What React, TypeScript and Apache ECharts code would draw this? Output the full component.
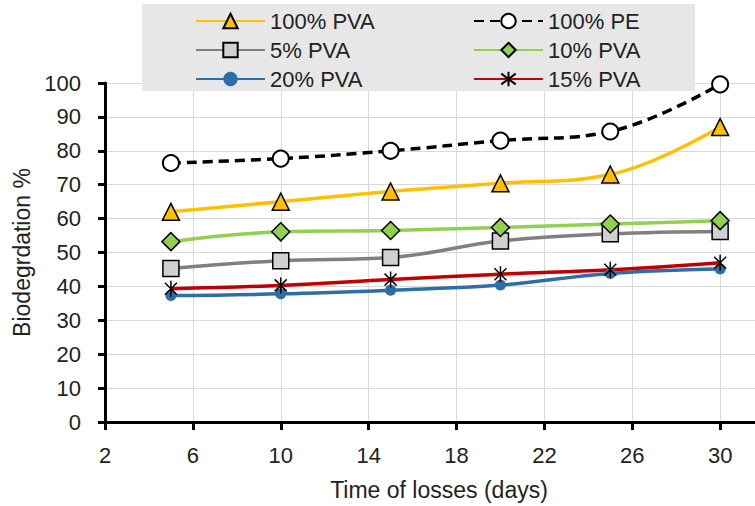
import React, { useEffect, useRef } from "react";
import * as echarts from "echarts";

const days = [5, 10, 15, 20, 25, 30];
const pva100 = [62, 65, 68, 70.4, 73, 87];
const pe100 = [76.4, 77.7, 80, 83, 85.7, 99.6];
const pva5 = [45.3, 47.6, 48.5, 53.4, 55.5, 56.2];
const pva10 = [53.2, 56.1, 56.5, 57.4, 58.4, 59.4];
const pva20 = [37.3, 37.8, 38.9, 40.4, 43.8, 45.1];
const pva15 = [39.3, 40.3, 42, 43.6, 44.9, 47];

const xTicks = { min: 2, max: 34, interval: 4 };
const yTicks = { min: 0, max: 100, interval: 10 };

const FONT = "Liberation Sans";

const pair = (ys: number[]) => days.map((d, i) => [d, ys[i]]);

export default function App() {
  const ref = useRef<HTMLDivElement>(null);
  useEffect(() => {
    if (!ref.current) return;
    const chart = echarts.init(ref.current, null, { renderer: "svg" });
    const star = "path://M10,0 L10,20 M2.5,2.5 L17.5,17.5 M2.5,17.5 L17.5,2.5";
    const base = { type: "line", smooth: 0.4, symbolKeepAspect: true };
    const legendText = { fontSize: 22, color: "#222", fontFamily: FONT, lineHeight: 22 };
    chart.setOption({
      animation: false,
      textStyle: { fontFamily: FONT },
      graphic: [
        {
          type: "rect",
          z: 3,
          shape: { x: 142, y: 4, width: 553, height: 87 },
          style: { fill: "#e7e7e7" },
          silent: true,
        },
      ],
      legend: [
        {
          z: 5,
          orient: "vertical",
          left: 190,
          top: 5,
          itemWidth: 69,
          itemHeight: 18,
          itemGap: 7,
          textStyle: legendText,
          data: ["100% PVA", "5% PVA", "20% PVA"],
        },
        {
          z: 5,
          orient: "vertical",
          left: 468,
          top: 5,
          itemWidth: 69,
          itemHeight: 18,
          itemGap: 7,
          textStyle: legendText,
          data: ["100% PE", "10% PVA", "15% PVA"],
        },
      ],
      grid: { left: 105, right: 35, top: 83, bottom: 83, containLabel: false },
      xAxis: {
        type: "value",
        ...xTicks,
        name: "Time of losses (days)",
        nameLocation: "middle",
        nameGap: 56,
        nameTextStyle: { fontSize: 23, color: "#222", fontFamily: FONT, padding: [0, 35, 0, 0] },
        axisLine: { show: true, lineStyle: { color: "#000", width: 3 } },
        axisTick: { show: true, length: 8, lineStyle: { color: "#000", width: 3 } },
        axisLabel: { fontSize: 22, color: "#222", margin: 22, fontFamily: FONT, showMaxLabel: false },
        splitLine: { show: true, lineStyle: { color: "#d9d9d9", width: 1 } },
      },
      yAxis: {
        type: "value",
        ...yTicks,
        name: "Biodegrdation %",
        nameLocation: "middle",
        nameGap: 72,
        nameTextStyle: { fontSize: 23, color: "#222", fontFamily: FONT },
        axisLine: { show: true, lineStyle: { color: "#000", width: 3 } },
        axisTick: { show: true, length: 7, lineStyle: { color: "#000", width: 3 } },
        axisLabel: { fontSize: 22, color: "#222", margin: 24, fontFamily: FONT },
        splitLine: { show: true, lineStyle: { color: "#d9d9d9", width: 1 } },
      },
      series: [
        {
          ...base,
          name: "20% PVA",
          data: pair(pva20),
          symbol: "circle",
          symbolSize: 11,
          lineStyle: { color: "#2e6ea6", width: 3.5 },
          itemStyle: { color: "#2e6ea6" },
        },
        {
          ...base,
          name: "15% PVA",
          data: pair(pva15),
          symbol: star,
          symbolSize: 16,
          lineStyle: { color: "#c00000", width: 3.5 },
          itemStyle: { color: "transparent", borderColor: "#000", borderWidth: 1.5 },
        },
        {
          ...base,
          name: "5% PVA",
          data: pair(pva5),
          symbol: "rect",
          symbolSize: 16,
          lineStyle: { color: "#808080", width: 3.5 },
          itemStyle: { color: "#d0d0d0", borderColor: "#000", borderWidth: 1.5 },
        },
        {
          ...base,
          name: "10% PVA",
          data: pair(pva10),
          symbol: "diamond",
          symbolSize: 18,
          lineStyle: { color: "#92d050", width: 3.5 },
          itemStyle: { color: "#92d050", borderColor: "#000", borderWidth: 1.5 },
        },
        {
          ...base,
          name: "100% PVA",
          data: pair(pva100),
          symbol: "triangle",
          symbolSize: 17,
          lineStyle: { color: "#ffc000", width: 3.5 },
          itemStyle: { color: "#ffc000", borderColor: "#000", borderWidth: 1.5 },
        },
        {
          ...base,
          name: "100% PE",
          data: pair(pe100),
          symbol: "circle",
          symbolSize: 16,
          lineStyle: { color: "#000", width: 3.5, type: [10, 6] },
          itemStyle: { color: "#fff", borderColor: "#000", borderWidth: 2 },
        },
      ],
    });
    return () => chart.dispose();
  }, []);
  return (
    <div style={{ position: "absolute", left: 0, top: 0, width: 755, height: 506, overflow: "hidden" }}>
      <div
        ref={ref}
        style={{ position: "absolute", left: 0, top: 0, width: 843, height: 506, background: "#fff" }}
      />
    </div>
  );
}
